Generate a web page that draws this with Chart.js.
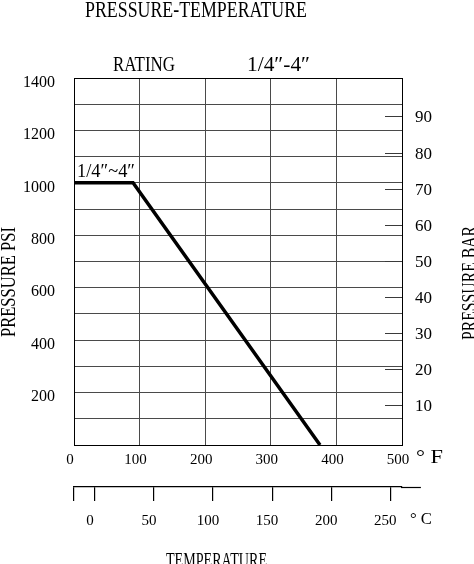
<!DOCTYPE html>
<html>
<head>
<meta charset="utf-8">
<script src="https://cdn.jsdelivr.net/npm/chart.js@4"></script>
<style>
html,body{margin:0;padding:0;background:#fff;}
canvas{display:block;}
</style>
</head>
<body>
<canvas id="c" width="474" height="564"></canvas>
<script>
// ---- data ----
const temperatureF = [0, 90, 375];
const pressurePsi = [1000, 1000, 0];
const psiTicks = [200, 400, 600, 800, 1000, 1200, 1400];
const barTicks = [10, 20, 30, 40, 50, 60, 70, 80, 90];
const celsiusTicks = [0, 50, 100, 150, 200, 250];
const fahrenheitTicks = [0, 100, 200, 300, 400, 500];

const FONT = '"Liberation Serif", "DejaVu Serif", serif';
const cMin = (0 - 32) / 1.8;
const cMax = (500 - 32) / 1.8;
const cAxisEnd = 276;

// text labels: [text, x, y(baseline), targetWidth, fontSize, rotation]
const texts = [
  ['PRESSURE-TEMPERATURE', 85, 16.5, 222, 24, 0],
  ['RATING', 113, 70.5, 62, 20, 0],
  ['1/4\u2033-4\u2033', 247, 70.5, 63, 20, 0],
  ['1/4\u2033~4\u2033', 77, 177, 58, 18, 0],
  ['PRESSURE PSI', 15, 337, 110, 21, -Math.PI / 2],
  ['PRESSURE BAR', 476, 340, 114, 21, -Math.PI / 2],
  ['\u00b0 F', 416, 463, 27, 19, 0],
  ['\u00b0 C', 410, 524, 22, 17, 0],
  ['TEMPERATURE', 166, 567, 101, 22, 0]
];

const textPlugin = {
  id: 'texts',
  afterDraw(chart) {
    const ctx = chart.ctx;
    // extension of the Celsius axis line beyond the plot
    const cs = chart.scales.c;
    ctx.save();
    ctx.strokeStyle = '#000';
    ctx.lineWidth = 1.2;
    ctx.beginPath();
    ctx.moveTo(cs.right - 1, cs.top + 0.5);
    ctx.lineTo(cs.getPixelForValue(cAxisEnd), cs.top + 0.5);
    ctx.stroke();
    ctx.restore();
    for (const [t, x, y, w, size, rot] of texts) {
      ctx.save();
      ctx.font = size + 'px ' + FONT;
      ctx.fillStyle = '#000';
      ctx.textBaseline = 'alphabetic';
      ctx.textAlign = 'left';
      const mw = ctx.measureText(t).width;
      ctx.translate(x, y);
      ctx.rotate(rot);
      ctx.scale(w / mw, 1);
      ctx.fillText(t, 0, 0);
      ctx.restore();
    }
  }
};

const gridColor = (lo, hi) => (c) => {
  const v = c.tick ? c.tick.value : null;
  return (v === lo || v === hi) ? '#000' : '#4a4a4a';
};

new Chart(document.getElementById('c'), {
  type: 'line',
  data: {
    datasets: [{
      data: temperatureF.map((t, i) => ({ x: t, y: pressurePsi[i] })),
      borderColor: '#000',
      borderWidth: 3.5,
      pointRadius: 0,
      tension: 0,
      fill: false,
      clip: false
    }]
  },
  options: {
    responsive: false,
    animation: false,
    layout: { padding: { top: 78, left: 0, right: 0, bottom: 0 } },
    plugins: { legend: { display: false }, tooltip: { enabled: false }, title: { display: false } },
    scales: {
      x: {
        type: 'linear',
        position: 'bottom',
        weight: 0,
        min: 0, max: 500,
        afterBuildTicks: s => { s.ticks = fahrenheitTicks.map(v => ({ value: v })); },
        afterFit: s => { s.height = 42; },
        ticks: { autoSkip: false, maxRotation: 0, font: { family: FONT, size: 15 }, color: '#000', padding: 6, labelOffset: -4 },
        grid: { color: gridColor(0, 500), lineWidth: 1, drawTicks: false },
        border: { display: true, color: '#000', width: 1 }
      },
      c: {
        type: 'linear',
        position: 'bottom',
        weight: 1,
        min: cMin, max: cMax,
        afterBuildTicks: s => { s.ticks = [cMin].concat(celsiusTicks).map(v => ({ value: v })); },
        afterFit: s => { s.height = 77; },
        ticks: {
          autoSkip: false, maxRotation: 0,
          font: { family: FONT, size: 15 }, color: '#000', padding: 11, labelOffset: -5,
          callback: v => (celsiusTicks.includes(v) ? String(v) : '')
        },
        grid: { drawOnChartArea: false, drawTicks: true, tickLength: 14, tickColor: '#000', lineWidth: 1.2 },
        border: { display: true, color: '#000', width: 1.2 }
      },
      y: {
        type: 'linear',
        position: 'left',
        min: 0, max: 1400,
        ticks: {
          stepSize: 100, autoSkip: false,
          font: { family: FONT, size: 16 }, color: '#000', padding: 19, labelOffset: 4.5,
          callback: v => (psiTicks.includes(v) ? String(v) : '')
        },
        afterFit: s => { s.width = 74; },
        grid: { color: gridColor(0, 1400), lineWidth: 1, drawTicks: false },
        border: { display: true, color: '#000', width: 1 }
      },
      bar: {
        type: 'linear',
        position: 'right',
        min: -0.9, max: 100.8,
        afterBuildTicks: s => { s.ticks = barTicks.map(v => ({ value: v })); },
        afterFit: s => { s.width = 72; },
        ticks: { autoSkip: false, font: { family: FONT, size: 17 }, color: '#000', padding: 30, labelOffset: 1 },
        grid: { drawOnChartArea: false, drawTicks: true, tickLength: -17, tickColor: '#3a3a3a', lineWidth: 1 },
        border: { display: false }
      }
    }
  },
  plugins: [textPlugin]
});
</script>
</body>
</html>
